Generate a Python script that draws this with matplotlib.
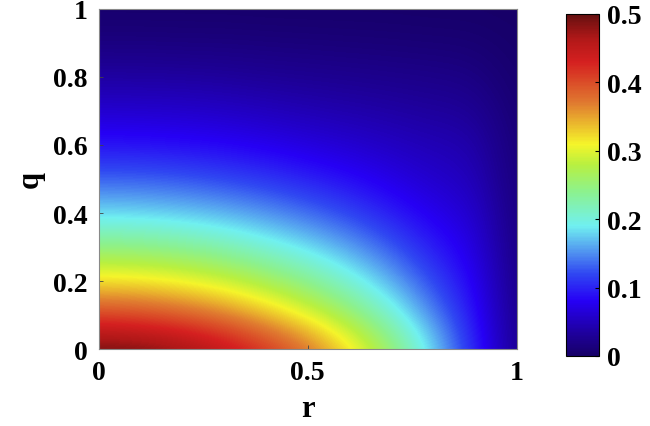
import numpy as np
import matplotlib
matplotlib.use("Agg")
import matplotlib.pyplot as plt
from matplotlib.colors import LinearSegmentedColormap

# grid coordinates
r_vals = [0.0, 0.1, 0.2, 0.3, 0.4, 0.5, 0.6, 0.7, 0.8, 0.9, 1.0]
q_vals = [0.0, 0.1, 0.2, 0.3, 0.4, 0.5, 0.6, 0.7, 0.8, 0.9, 1.0]

# values: rows = q, columns = r
z_q00 = [0.500, 0.495, 0.480, 0.455, 0.420, 0.380, 0.325, 0.258, 0.180, 0.100, 0.020]
z_q01 = [0.405, 0.401, 0.389, 0.369, 0.340, 0.304, 0.259, 0.207, 0.146, 0.090, 0.018]
z_q02 = [0.320, 0.317, 0.307, 0.291, 0.267, 0.238, 0.203, 0.163, 0.118, 0.080, 0.016]
z_q03 = [0.245, 0.243, 0.235, 0.222, 0.203, 0.182, 0.157, 0.127, 0.095, 0.070, 0.014]
z_q04 = [0.180, 0.178, 0.173, 0.164, 0.151, 0.135, 0.117, 0.096, 0.075, 0.060, 0.012]
z_q05 = [0.130, 0.129, 0.125, 0.118, 0.109, 0.098, 0.086, 0.072, 0.058, 0.050, 0.010]
z_q06 = [0.090, 0.089, 0.086, 0.082, 0.076, 0.068, 0.061, 0.053, 0.046, 0.042, 0.008]
z_q07 = [0.060, 0.059, 0.058, 0.055, 0.050, 0.045, 0.041, 0.037, 0.033, 0.030, 0.006]
z_q08 = [0.035, 0.035, 0.034, 0.032, 0.029, 0.027, 0.025, 0.023, 0.021, 0.018, 0.004]
z_q09 = [0.015, 0.015, 0.014, 0.014, 0.013, 0.012, 0.011, 0.010, 0.009, 0.008, 0.002]
z_q10 = [0.003, 0.003, 0.003, 0.003, 0.002, 0.002, 0.002, 0.002, 0.001, 0.001, 0.000]

x_ticks = [0, 0.5, 1]
x_ticklabels = ["0", "0.5", "1"]
y_ticks = [0, 0.2, 0.4, 0.6, 0.8, 1]
y_ticklabels = ["0", "0.2", "0.4", "0.6", "0.8", "1"]
cb_ticks = [0, 0.1, 0.2, 0.3, 0.4, 0.5]
cb_ticklabels = ["0", "0.1", "0.2", "0.3", "0.4", "0.5"]

Z = np.array([z_q00, z_q01, z_q02, z_q03, z_q04, z_q05,
              z_q06, z_q07, z_q08, z_q09, z_q10])

cmap = LinearSegmentedColormap.from_list("jetlike", [
    (0.00, "#170068"),
    (0.06, "#1e0098"),
    (0.16, "#2600f5"),
    (0.24, "#3048f2"),
    (0.30, "#4f90f0"),
    (0.38, "#70f0f0"),
    (0.48, "#8cf28e"),
    (0.56, "#b8f040"),
    (0.62, "#f5f52a"),
    (0.74, "#e07a30"),
    (0.86, "#d52020"),
    (0.93, "#b01818"),
    (1.00, "#661010"),
])

plt.rcParams['font.family'] = ['Liberation Serif', 'DejaVu Serif']
plt.rcParams['font.weight'] = 'bold'

fig = plt.figure(figsize=(6.5, 4.27), dpi=100)
ax = fig.add_axes([0.152, 0.180, 0.643, 0.797])
dr = (r_vals[1] - r_vals[0]) / 2
dq = (q_vals[1] - q_vals[0]) / 2
img = ax.imshow(Z, origin='lower', cmap=cmap, vmin=0, vmax=0.5,
                extent=[r_vals[0] - dr, r_vals[-1] + dr, q_vals[0] - dq, q_vals[-1] + dq],
                interpolation='bicubic', aspect='auto')
ax.set_xlim(0, 1)
ax.set_ylim(0, 1)
ax.set_xticks(x_ticks)
ax.set_xticklabels(x_ticklabels)
ax.set_yticks(y_ticks)
ax.set_yticklabels(y_ticklabels)
ax.tick_params(direction='in', length=3, width=0.6, labelsize=20, pad=8, color='#444444')
for lab in ax.get_xticklabels() + ax.get_yticklabels():
    lab.set_fontweight('bold')
for s in ax.spines.values():
    s.set_color('#888888')
    s.set_linewidth(0.8)
ax.set_xlabel("r", fontsize=22, fontweight='bold', labelpad=6)
ax.set_ylabel("q", fontsize=22, fontweight='bold', labelpad=6)

cax = fig.add_axes([0.871, 0.164, 0.050, 0.801])
cb = fig.colorbar(img, cax=cax, ticks=cb_ticks)
cb.set_ticklabels(cb_ticklabels)
cax.tick_params(direction='in', length=3, width=0.8, labelsize=20, pad=6)
for lab in cax.get_yticklabels():
    lab.set_fontweight('bold')
cb.outline.set_linewidth(0.8)

fig.savefig("out.png", dpi=100)
